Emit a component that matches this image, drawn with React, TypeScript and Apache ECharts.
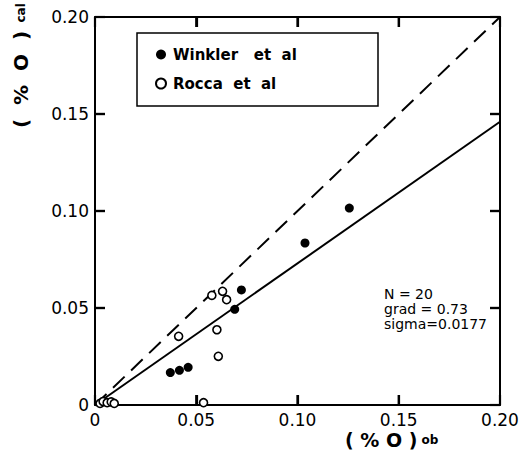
import React, { useEffect, useRef } from "react";
import * as echarts from "echarts";

const xTicks = [0, 0.05, 0.1, 0.15, 0.2];
const yTicks = [0, 0.05, 0.1, 0.15, 0.2];

const winklerObs = [0.0372, 0.0417, 0.046, 0.069, 0.0723, 0.1037, 0.1256];
const winklerCal = [0.0167, 0.0179, 0.0194, 0.0493, 0.0593, 0.0835, 0.1015];

const roccaObs = [0.0413, 0.0577, 0.063, 0.065, 0.0602, 0.0609, 0.0536, 0.0025, 0.004, 0.006, 0.008, 0.0095];
const roccaCal = [0.0354, 0.0565, 0.0586, 0.0543, 0.0388, 0.0251, 0.0012, 0.0008, 0.0018, 0.0012, 0.0016, 0.0008];

const identityLine = [[0, 0], [0.2, 0.2]];
const fitLine = [[0, 0], [0.2, 0.146]];

const stats = ["N = 20", "grad = 0.73", "sigma=0.0177"];
const legendNames = ["Winkler   et  al", "Rocca  et  al"];

const FONT = "'DejaVu Sans', sans-serif";
const TICK_LEN = 10;

function fmt(v: number) {
  return v === 0 ? "0" : v.toFixed(2);
}

function makeAxis(position: string, showLabel: boolean) {
  return {
    type: "value",
    position,
    min: 0,
    max: 0.2,
    interval: 0.05,
    splitLine: { show: false },
    axisLine: { show: true, onZero: false, lineStyle: { color: "#000", width: 2 } },
    axisTick: { show: true, inside: true, length: TICK_LEN, lineStyle: { color: "#000", width: 2.2 } },
    axisLabel: showLabel
      ? {
          show: true,
          color: "#000",
          fontFamily: FONT,
          fontSize: 17,
          margin: 6,
          formatter: (v: number) => fmt(v),
        }
      : { show: false },
  };
}

function tickSeries(data: number[][], vertical: boolean, offset: number[]) {
  return {
    type: "scatter",
    silent: true,
    clip: false,
    data,
    symbol: "rect",
    symbolSize: vertical ? [2.2, TICK_LEN] : [TICK_LEN, 2.2],
    symbolOffset: offset,
    itemStyle: { color: "#000", opacity: 1 },
    z: 6,
  };
}

export default function App() {
  const ref = useRef<HTMLDivElement>(null);
  useEffect(() => {
    const chart = echarts.init(ref.current!, null, { renderer: "svg" });
    const innerX = xTicks.slice(1, -1);
    const innerY = yTicks.slice(1, -1);
    const xMin = xTicks[0];
    const xMax = xTicks[xTicks.length - 1];
    const yMin = yTicks[0];
    const yMax = yTicks[yTicks.length - 1];
    chart.setOption({
      animation: false,
      backgroundColor: "#fff",
      grid: { left: 95, right: 26, top: 17, bottom: 59 },
      xAxis: [makeAxis("bottom", true), makeAxis("top", false)],
      yAxis: [makeAxis("left", true), makeAxis("right", false)],
      legend: {
        orient: "vertical",
        left: 150,
        top: 42,
        itemGap: 14,
        itemWidth: 14,
        itemHeight: 10,
        data: [legendNames[0], legendNames[1]],
        textStyle: { color: "#000", fontFamily: FONT, fontSize: 15, fontWeight: "bold" },
      },
      graphic: [
        {
          type: "rect",
          shape: { x: 137, y: 33, width: 241, height: 73 },
          style: { fill: "none", stroke: "#000", lineWidth: 1.5 },
          z: 10,
        },
        {
          type: "text",
          left: 384,
          top: 286,
          style: {
            text: stats.join("\n"),
            fontFamily: FONT,
            fontSize: 14,
            lineHeight: 15,
            fill: "#000",
          },
        },
        {
          type: "text",
          x: 345,
          y: 430,
          style: {
            text: "{a|( % O )}{b| ob}",
            fill: "#000",
            rich: {
              a: { fontFamily: FONT, fontSize: 19, fontWeight: "bold", fill: "#000" },
              b: { fontFamily: FONT, fontSize: 12, fontWeight: "bold", fill: "#000" },
            },
          },
        },
        {
          type: "text",
          x: 11,
          y: 128,
          rotation: Math.PI / 2,
          style: {
            text: "{a|(  %  O  )}{b|  cal}",
            fill: "#000",
            rich: {
              a: { fontFamily: FONT, fontSize: 20, fontWeight: "bold", fill: "#000" },
              b: { fontFamily: FONT, fontSize: 12, fontWeight: "bold", fill: "#000" },
            },
          },
        },
      ],
      series: [
        tickSeries(innerX.map((v) => [v, yMin]), true, [0, -TICK_LEN / 2]),
        tickSeries(innerX.map((v) => [v, yMax]), true, [0, TICK_LEN / 2]),
        tickSeries(innerY.map((v) => [xMin, v]), false, [TICK_LEN / 2, 0]),
        tickSeries(innerY.map((v) => [xMax, v]), false, [-TICK_LEN / 2, 0]),
        {
          name: "identity",
          type: "line",
          data: identityLine,
          showSymbol: false,
          symbol: "none",
          lineStyle: { color: "#000", width: 2, type: [16, 9] },
          z: 2,
        },
        {
          name: "fit",
          type: "line",
          data: fitLine,
          showSymbol: false,
          symbol: "none",
          lineStyle: { color: "#000", width: 2 },
          z: 2,
        },
        {
          name: legendNames[0],
          type: "scatter",
          data: winklerObs.map((x, i) => [x, winklerCal[i]]),
          symbol: "circle",
          symbolSize: 9,
          itemStyle: { color: "#000", opacity: 1 },
          z: 5,
        },
        {
          name: legendNames[1],
          type: "scatter",
          data: roccaObs.map((x, i) => [x, roccaCal[i]]),
          symbol: "circle",
          symbolSize: 8,
          itemStyle: { color: "#fff", borderColor: "#000", borderWidth: 1.6, opacity: 1 },
          z: 5,
        },
      ],
    });
    return () => chart.dispose();
  }, []);
  return <div ref={ref} style={{ width: 526, height: 464, position: "absolute", left: 0, top: 0, background: "#fff" }} />;
}
